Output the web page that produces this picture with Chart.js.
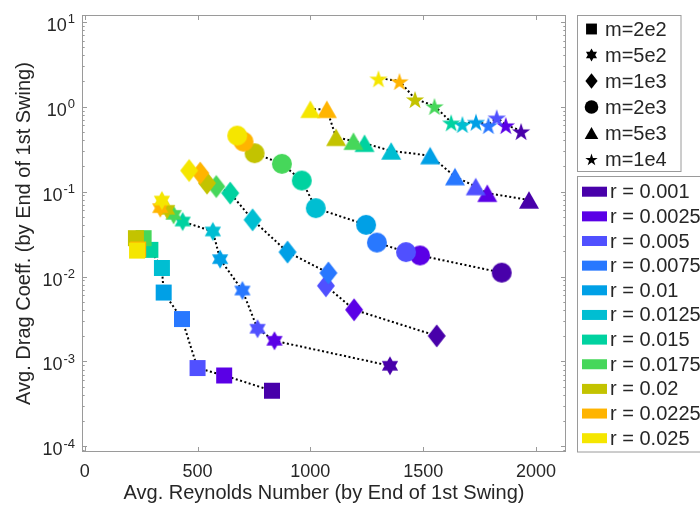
<!DOCTYPE html>
<html>
<head>
<meta charset="utf-8">
<script src="https://cdn.jsdelivr.net/npm/chart.js@4.4.1/dist/chart.umd.min.js"></script>
<style>
  html, body { margin: 0; padding: 0; background: #fff; }
  #wrap { width: 700px; height: 507px; }
</style>
</head>
<body>
<div id="wrap"><canvas id="chart" width="700" height="507"></canvas></div>
<script>
// ratio values and their colours (legend order)
const rValues = [0.001, 0.0025, 0.005, 0.0075, 0.01, 0.0125, 0.015, 0.0175, 0.02, 0.0225, 0.025];
const rColors = ['#4800aa', '#5a00e6', '#5050ff', '#2878ff', '#00a0e6', '#00bed2',
                 '#00d2a0', '#46d75a', '#c3c300', '#ffb400', '#f5e600'];

const mLabels = ['m=2e2', 'm=5e2', 'm=1e3', 'm=2e3', 'm=5e3', 'm=1e4'];
const mShapes = ['square', 'star6', 'diamond', 'circle', 'triangle', 'star5'];

// Reynolds number / drag coeff per mass, ordered like rValues
const reM2e2 = [830, 618, 500, 431, 350, 342, 291, 261, 227, 237, 232];
const cdM2e2 = [0.000452, 0.000684, 0.000836, 0.00316, 0.00648, 0.0126, 0.0206, 0.0283, 0.0283, 0.0208, 0.0202];
const reM5e2 = [1353, 841, 766, 699, 600, 568, 434, 394, 365, 335, 342];
const cdM5e2 = [0.00089, 0.00175, 0.00243, 0.00684, 0.016, 0.0339, 0.0444, 0.0532, 0.061, 0.0638, 0.0784];
const reM1e3 = [1560, 1194, 1069, 1080, 899, 744, 645, 583, 542, 512, 463];
const cdM1e3 = [0.002, 0.00406, 0.00778, 0.011, 0.0194, 0.0465, 0.096, 0.1146, 0.1256, 0.165, 0.177];
const reM2e3 = [1848, 1486, 1424, 1295, 1247, 1024, 962, 874, 753, 704, 676];
const cdM2e3 = [0.0111, 0.0177, 0.0194, 0.0251, 0.0406, 0.0638, 0.135, 0.212, 0.283, 0.387, 0.456];
const reM5e3 = [1969, 1784, 1733, 1641, 1531, 1358, 1240, 1191, 1114, 1073, 1000];
const cdM5e3 = [0.0798, 0.0957, 0.1146, 0.150, 0.265, 0.301, 0.371, 0.392, 0.436, 0.93, 0.932];
const reM1e4 = [1934, 1866, 1826, 1789, 1734, 1674, 1624, 1550, 1464, 1395, 1302];
const cdM1e4 = [0.518, 0.609, 0.75, 0.609, 0.667, 0.626, 0.655, 1.02, 1.23, 2.01, 2.16];

const reByMass = [reM2e2, reM5e2, reM1e3, reM2e3, reM5e3, reM1e4];
const cdByMass = [cdM2e2, cdM5e2, cdM1e3, cdM2e3, cdM5e3, cdM1e4];

const xTicks = [0, 500, 1000, 1500, 2000];
const yTicks = [1e-4, 1e-3, 1e-2, 1e-1, 1, 10];

const FONT = '"Liberation Sans", Arial, Helvetica, sans-serif';
const TEXT = '#262626';
const AXIS = '#9a9a9a';

function tracePath(ctx, shape, cx, cy, k) {
    ctx.beginPath();
    if (shape === 'square') {
        const h = 8 * k;
        ctx.rect(cx - h, cy - h, 2 * h, 2 * h);
    } else if (shape === 'circle') {
        ctx.arc(cx, cy, 10 * k, 0, Math.PI * 2);
    } else if (shape === 'diamond') {
        const w = 9 * k, h = 11.5 * k;
        ctx.moveTo(cx, cy - h); ctx.lineTo(cx + w, cy);
        ctx.lineTo(cx, cy + h); ctx.lineTo(cx - w, cy);
        ctx.closePath();
    } else if (shape === 'triangle') {
        const w = 10 * k, h = 8.75 * k;
        ctx.moveTo(cx, cy - h); ctx.lineTo(cx + w, cy + h); ctx.lineTo(cx - w, cy + h);
        ctx.closePath();
    } else {
        const n = shape === 'star5' ? 5 : 6;
        const R = (n === 5 ? 9.6 : 9.4) * k;
        const r = n === 5 ? R * 0.382 : R * 0.577;
        const off = n === 5 ? 1.5 * k : 0;
        for (let i = 0; i < 2 * n; i++) {
            const a = -Math.PI / 2 + i * Math.PI / n;
            const rad = i % 2 ? r : R;
            const px = cx + rad * Math.cos(a), py = cy + off + rad * Math.sin(a);
            if (i === 0) ctx.moveTo(px, py); else ctx.lineTo(px, py);
        }
        ctx.closePath();
    }
}

function makeMarker(shape, color) {
    const c = document.createElement('canvas');
    c.width = 26; c.height = 26;
    const ctx = c.getContext('2d');
    ctx.fillStyle = color;
    tracePath(ctx, shape, 13, 13, 1);
    ctx.fill();
    return c;
}

const datasets = mLabels.map((label, i) => ({
    label: label,
    data: reByMass[i].map((re, j) => ({ x: re, y: cdByMass[i][j] })),
    showLine: true,
    borderColor: '#000',
    borderWidth: 2,
    borderDash: [2, 2.5],
    pointStyle: rColors.map(c => makeMarker(mShapes[i], c)),
    pointRadius: 10,
    pointHoverRadius: 10
}));

const framePlugin = {
    id: 'frame',
    afterDatasetsDraw(chart) {
        const ctx = chart.ctx;
        const a = chart.chartArea;
        const xs = chart.scales.x, ys = chart.scales.y;
        ctx.save();
        ctx.strokeStyle = AXIS;
        ctx.lineWidth = 1;
        ctx.strokeRect(a.left + 0.5, a.top + 0.5, a.right - a.left - 1, a.bottom - a.top - 1);
        ctx.beginPath();
        xTicks.forEach(v => {
            const px = Math.round(xs.getPixelForValue(v)) + 0.5;
            ctx.moveTo(px, a.bottom); ctx.lineTo(px, a.bottom - 5);
            ctx.moveTo(px, a.top); ctx.lineTo(px, a.top + 5);
        });
        for (let e = -5; e <= 1; e++) {
            for (let m = 1; m <= 9; m++) {
                const v = m * Math.pow(10, e);
                if (v < ys.min || v > ys.max) continue;
                const py = Math.round(ys.getPixelForValue(v)) + 0.5;
                const len = m === 1 ? 5 : 2.7;
                ctx.moveTo(a.left, py); ctx.lineTo(a.left + len, py);
                ctx.moveTo(a.right, py); ctx.lineTo(a.right - len, py);
            }
        }
        ctx.stroke();

        // y tick labels as 10^n
        ctx.fillStyle = TEXT;
        ctx.textBaseline = 'alphabetic';
        yTicks.forEach(v => {
            const py = ys.getPixelForValue(v);
            const exp = String(Math.round(Math.log10(v)));
            ctx.font = '13px ' + FONT;
            const we = ctx.measureText(exp).width;
            ctx.font = '18px ' + FONT;
            const wb = ctx.measureText('10').width;
            const right = 75;
            ctx.textAlign = 'left';
            ctx.fillText('10', right - we - wb - 1, py + 9);
            ctx.font = '13px ' + FONT;
            ctx.fillText(exp, right - we, py + 1.5);
        });
        ctx.restore();
    },
    afterDraw(chart) {
        const ctx = chart.ctx;
        ctx.save();
        // marker legend
        ctx.fillStyle = '#fff';
        ctx.strokeStyle = AXIS;
        ctx.lineWidth = 1;
        ctx.fillRect(577.5, 15.5, 103.5, 156);
        ctx.strokeRect(577.5, 15.5, 103.5, 156);
        ctx.font = '20px ' + FONT;
        ctx.textBaseline = 'middle';
        ctx.textAlign = 'left';
        mLabels.forEach((lab, i) => {
            const cy = 29 + i * 26;
            ctx.fillStyle = '#000';
            tracePath(ctx, mShapes[i], 591.5, cy, 0.68);
            ctx.fill();
            ctx.fillStyle = TEXT;
            ctx.fillText(lab, 605, cy + 1);
        });
        // colour legend
        ctx.fillStyle = '#fff';
        ctx.fillRect(577.5, 176.5, 130, 275.5);
        ctx.strokeRect(577.5, 176.5, 130, 275.5);
        rValues.forEach((r, i) => {
            const cy = 191.7 + i * 24.65;
            ctx.fillStyle = rColors[i];
            ctx.fillRect(582, cy - 5, 25, 10);
            ctx.fillStyle = TEXT;
            ctx.fillText('r = ' + r, 610, cy + 1);
        });
        ctx.restore();
    }
};

new Chart(document.getElementById('chart'), {
    type: 'scatter',
    data: { datasets: datasets },
    options: {
        responsive: false,
        animation: false,
        events: [],
        layout: { padding: { left: 0, top: 15, right: 134, bottom: 0 } },
        plugins: { legend: { display: false }, tooltip: { enabled: false } },
        scales: {
            x: {
                type: 'linear',
                min: -12,
                max: 2133,
                afterFit: s => { s.height = 55; },
                afterBuildTicks: s => { s.ticks = xTicks.map(v => ({ value: v })); },
                grid: { display: false },
                border: { display: false },
                ticks: {
                    color: TEXT,
                    font: { family: FONT, size: 18 },
                    padding: 1,
                    maxRotation: 0,
                    autoSkip: false,
                    callback: v => String(v)
                },
                title: {
                    display: true,
                    text: 'Avg. Reynolds Number (by End of 1st Swing)',
                    color: TEXT,
                    font: { family: FONT, size: 20 },
                    padding: { top: 0, bottom: 2 }
                }
            },
            y: {
                type: 'logarithmic',
                min: 8.59e-5,
                max: 11.99,
                afterFit: s => { s.width = 82; },
                afterBuildTicks: s => { s.ticks = yTicks.map(v => ({ value: v })); },
                grid: { display: false },
                border: { display: false },
                ticks: { display: false },
                title: {
                    display: true,
                    text: 'Avg. Drag Coeff. (by End of 1st Swing)',
                    color: TEXT,
                    font: { family: FONT, size: 20 },
                    padding: { top: 12, bottom: 0 }
                }
            }
        }
    },
    plugins: [framePlugin]
});
</script>
</body>
</html>
